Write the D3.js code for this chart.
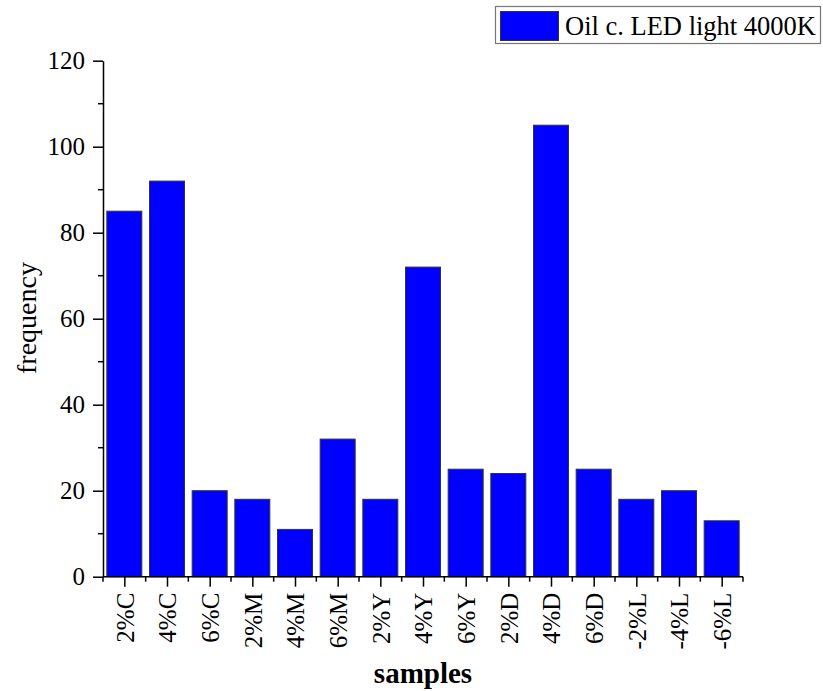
<!DOCTYPE html>
<html><head><meta charset="utf-8">
<script src="https://cdn.jsdelivr.net/npm/d3@7"></script>
<style>body{margin:0;background:#fff}svg{display:block}text{font-family:"Liberation Serif","Times New Roman",serif;fill:#000}</style>
</head><body>
<script>
const categories = ["2%C","4%C","6%C","2%M","4%M","6%M","2%Y","4%Y","6%Y","2%D","4%D","6%D","-2%L","-4%L","-6%L"];
const values = [85,92,20,18,11,32,18,72,25,24,105,25,18,20,13];
const yTicks = [0,20,40,60,80,100,120];
const seriesName = "Oil c. LED light 4000K";

const W = 823, H = 691;
const x0 = 103, x1 = 743, yTop = 60.7, yBot = 576.7;
const svg = d3.select("body").append("svg").attr("width", W).attr("height", H);

const x = d3.scaleBand().domain(categories).range([x0, x1]).paddingInner(0.18).paddingOuter(0.09);
const xc = d3.scalePoint().domain(categories).range([x0 + (x1-x0)/30, x1 - (x1-x0)/30]);
const y = d3.scaleLinear().domain([0,120]).range([yBot, yTop]);

// bars
svg.append("g").selectAll("rect").data(values).join("rect")
  .attr("x", (d,i) => xc(categories[i]) - x.bandwidth()/2)
  .attr("width", x.bandwidth())
  .attr("y", d => y(d))
  .attr("height", d => yBot - y(d))
  .attr("fill", "#0000ff").attr("stroke", "#333").attr("stroke-width", 1);

// y axis
const ya = svg.append("g").attr("transform", `translate(${x0},0)`)
  .call(d3.axisLeft(y).tickValues(yTicks).tickSize(10).tickPadding(8).tickSizeOuter(0));
ya.select(".domain").attr("stroke","#000").attr("stroke-width",1.5);
ya.selectAll(".tick line").attr("stroke","#000").attr("stroke-width",1.5);
ya.selectAll(".tick text").style("font-size","25px").style("font-family","Liberation Serif");
const yMinor = d3.range(10,120,20);
svg.append("g").selectAll("line").data(yMinor).join("line")
  .attr("x1", x0-5).attr("x2", x0).attr("y1", d=>y(d)).attr("y2", d=>y(d))
  .attr("stroke","#000").attr("stroke-width",1.5);

// x axis
const xa = svg.append("g").attr("transform", `translate(0,${yBot})`)
  .call(d3.axisBottom(xc).tickSize(10).tickPadding(6).tickSizeOuter(0));
xa.select(".domain").attr("d", `M${x0},0H${x1}`).attr("stroke","#000").attr("stroke-width",1.5);
xa.selectAll(".tick line").attr("stroke","#000").attr("stroke-width",1.5);
xa.selectAll(".tick text")
  .style("font-size","25px").style("font-family","Liberation Serif")
  .attr("text-anchor","end").attr("dy","0.35em")
  .attr("transform","rotate(-90)").attr("x",-16).attr("y",0);
const step = (x1-x0)/categories.length;
svg.append("g").selectAll("line").data(d3.range(categories.length+1)).join("line")
  .attr("x1", i => x0 + i*step).attr("x2", i => x0 + i*step)
  .attr("y1", yBot).attr("y2", yBot+5)
  .attr("stroke","#000").attr("stroke-width",1.5);

// axis titles
svg.append("text").attr("transform","translate(36,318) rotate(-90)")
  .attr("text-anchor","middle").style("font-size","28px").text("frequency");
svg.append("text").attr("x",423).attr("y",683)
  .attr("text-anchor","middle").style("font-size","29px").style("font-weight","bold").text("samples");

// legend
const lg = svg.append("g");
lg.append("rect").attr("x",495.5).attr("y",6.5).attr("width",325).attr("height",37)
  .attr("fill","#fff").attr("stroke","#777").attr("stroke-width",1.2);
lg.append("rect").attr("x",500.5).attr("y",11.5).attr("width",58).attr("height",29)
  .attr("fill","#0000ff").attr("stroke","#333").attr("stroke-width",1);
lg.append("text").attr("x",565).attr("y",35).style("font-size","26.5px").text(seriesName);
</script>
</body></html>
